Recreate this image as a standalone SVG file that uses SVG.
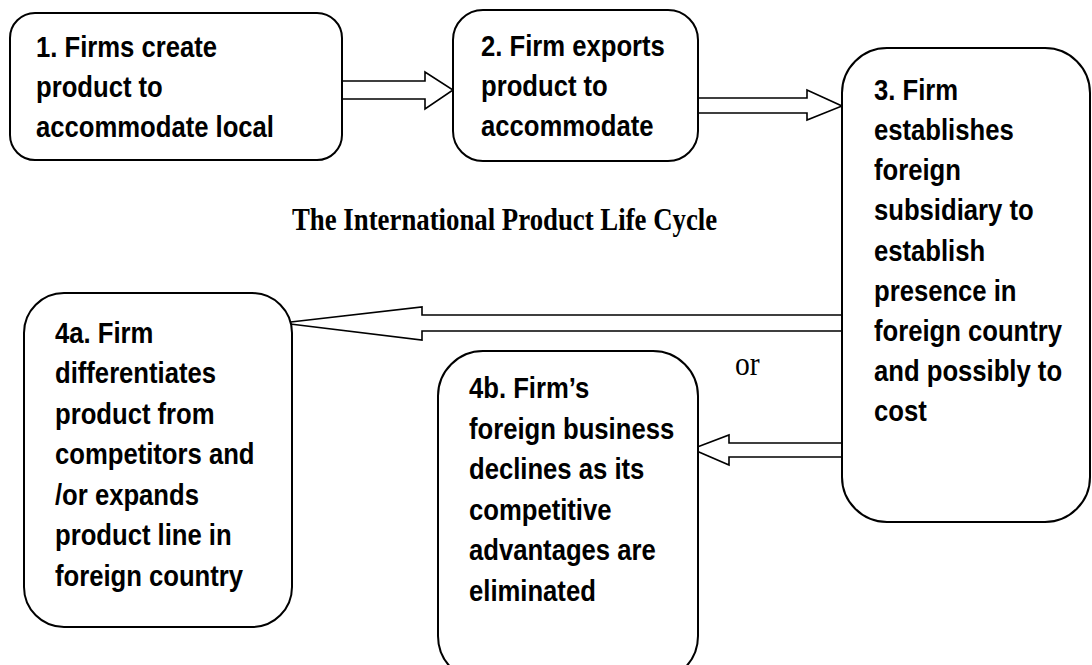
<svg xmlns="http://www.w3.org/2000/svg" width="1092" height="665" viewBox="0 0 1092 665">
  <style>
    .box { fill: #ffffff; stroke: #000000; stroke-width: 2; }
    .arrow { fill: #ffffff; stroke: #000000; stroke-width: 1.6; stroke-linejoin: miter; }
    .label { font-family: "Liberation Sans", Arial, sans-serif; font-weight: bold; font-size: 29.5px; fill: #000000; }
    .title { font-family: "Liberation Serif", "Times New Roman", serif; font-weight: bold; font-size: 30.8px; fill: #000000; }
    .note { font-family: "Liberation Serif", "Times New Roman", serif; font-size: 34px; fill: #000000; }
  </style>
  <rect width="1092" height="665" fill="#ffffff"/>

  <!-- block arrows between the stages -->
  <g id="connectors">
    <path class="arrow" d="M342,81 H425 V72 L453,90 L425,109 V99 H342"/>
    <path class="arrow" d="M698,98 H807 V90 L842,106 L807,120 V113 H698"/>
    <path class="arrow" d="M842,315 H422 V307 L282,323 L422,340 V331 H842"/>
    <path class="arrow" d="M842,443 H729 V435 L692,449 L729,465 V457 H842"/>
  </g>

  <!-- labels use a horizontally condensed face (scale 0.87) -->
  <g id="stage1">
    <rect class="box" x="10" y="13" width="332" height="147" rx="25" ry="25"/>
    <text class="label" transform="matrix(0.87 0 0 1 36 0)">
      <tspan x="0" y="57">1. Firms create</tspan>
      <tspan x="0" y="97">product to</tspan>
      <tspan x="0" y="137">accommodate local</tspan>
    </text>
  </g>

  <g id="stage2">
    <rect class="box" x="453" y="10" width="245" height="151" rx="30" ry="30"/>
    <text class="label" transform="matrix(0.87 0 0 1 481 0)">
      <tspan x="0" y="56">2. Firm exports</tspan>
      <tspan x="0" y="96">product to</tspan>
      <tspan x="0" y="136">accommodate</tspan>
    </text>
  </g>

  <g id="stage3">
    <rect class="box" x="842" y="48" width="248" height="474" rx="45" ry="45"/>
    <text class="label" transform="matrix(0.87 0 0 1 874 0)">
      <tspan x="0" y="100">3. Firm</tspan>
      <tspan x="0" y="140">establishes</tspan>
      <tspan x="0" y="180">foreign</tspan>
      <tspan x="0" y="220">subsidiary to</tspan>
      <tspan x="0" y="261">establish</tspan>
      <tspan x="0" y="301">presence in</tspan>
      <tspan x="0" y="341">foreign country</tspan>
      <tspan x="0" y="381">and possibly to</tspan>
      <tspan x="0" y="421">cost</tspan>
    </text>
  </g>

  <g id="stage4a">
    <rect class="box" x="24" y="293" width="268" height="334" rx="40" ry="40"/>
    <text class="label" transform="matrix(0.87 0 0 1 55 0)">
      <tspan x="0" y="343">4a. Firm</tspan>
      <tspan x="0" y="383">differentiates</tspan>
      <tspan x="0" y="424">product from</tspan>
      <tspan x="0" y="464">competitors and</tspan>
      <tspan x="0" y="505">/or expands</tspan>
      <tspan x="0" y="545">product line in</tspan>
      <tspan x="0" y="586">foreign country</tspan>
    </text>
  </g>

  <g id="stage4b">
    <rect class="box" x="438" y="351" width="260" height="330" rx="45" ry="45"/>
    <text class="label" transform="matrix(0.87 0 0 1 469 0)">
      <tspan x="0" y="398">4b. Firm’s</tspan>
      <tspan x="0" y="439">foreign business</tspan>
      <tspan x="0" y="479">declines as its</tspan>
      <tspan x="0" y="520">competitive</tspan>
      <tspan x="0" y="560">advantages are</tspan>
      <tspan x="0" y="601">eliminated</tspan>
    </text>
  </g>

  <g id="caption">
    <text class="title" transform="matrix(0.87 0 0 1 292 0)" x="0" y="230">The International Product Life Cycle</text>
    <text class="note" transform="matrix(0.87 0 0 1 735 0)" x="0" y="375">or</text>
  </g>
</svg>
